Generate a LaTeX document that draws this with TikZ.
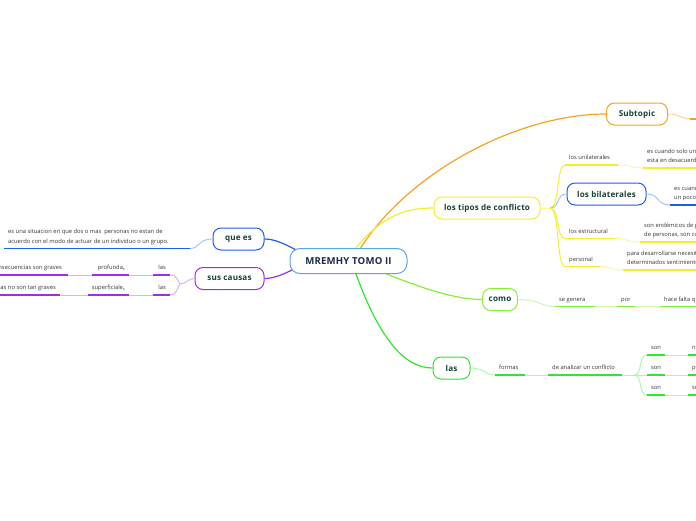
\documentclass[tikz,border=0pt]{standalone}
\usepackage{fontspec}
\setmainfont{Open Sans}
\definecolor{cblue}{HTML}{1F5CF0}
\definecolor{cblueL}{HTML}{A8C0F8}
\definecolor{cyel}{HTML}{F2EE30}
\definecolor{cyelL}{HTML}{F8F6A8}
\definecolor{corg}{HTML}{F7A21E}
\definecolor{corgL}{HTML}{FAD49A}
\definecolor{cpur}{HTML}{A02CE8}
\definecolor{cpurL}{HTML}{DDB0F6}
\definecolor{clime}{HTML}{84F034}
\definecolor{climeL}{HTML}{CDF8AE}
\definecolor{cgrn}{HTML}{2EE62E}
\definecolor{cgrnL}{HTML}{AEF6AE}
\definecolor{ccen}{HTML}{5CA4E4}
\definecolor{ctxt}{HTML}{333333}
\definecolor{chead}{HTML}{17403A}
\definecolor{cnavy}{HTML}{1C2B4A}
\tikzset{
  box/.style={draw=#1, line width=1pt, rounded corners=8pt, fill=white, minimum height=22pt, inner xsep=6pt, font=\fontsize{8.1}{9}\selectfont\bfseries\addfontfeature{LetterSpace=2}, text=chead},
  lbl/.style={anchor=south west, inner xsep=4pt, inner ysep=5pt, font=\fontsize{5.8}{9}\selectfont, text=ctxt, align=left, text depth=0pt},
  lblr/.style={lbl, anchor=south east},
  ul/.style={line width=1.6pt, draw=#1},
  lk/.style={line width=1pt, draw=#1},
  br/.style={line width=1.2pt, draw=#1},
}
\begin{document}
\begin{tikzpicture}[x=1pt,y=-1pt]
\useasboundingbox (0,0) rectangle (696,520);
\clip (0,0) rectangle (696,520);
% main branches
\coordinate (cA) at (360,249);
\coordinate (cB) at (355,249);
\coordinate (cC) at (372,268);
\coordinate (cD) at (356,274);
\coordinate (cE) at (300,252);
\coordinate (cF) at (292,270);
\node[box=corg, minimum width=61pt] (sub) at (637,114) {Subtopic};
\node[box=cyel, minimum width=106pt] (tipos) at (487,208) {los tipos de conflicto};
\node[box=clime, minimum width=32pt] (como) at (500,299.5) {como};
\node[box=cgrn, minimum width=37pt] (las) at (451.5,368) {las};
\node[box=cblue, minimum width=51pt] (quees) at (238.5,239) {que es};
\node[box=cpur, minimum width=69pt] (causas) at (229.5,278.5) {sus causas};
\draw[br=corg] (cA) .. controls (410,170) and (520,114) .. (sub.west);
\draw[br=cyel] (cB) .. controls (385,212) and (410,208) .. (tipos.west);
\draw[br=clime] (cC) .. controls (420,288) and (455,299.5) .. (como.west);
\draw[br=cgrn] (cD) .. controls (380,340) and (405,368) .. (las.west);
\draw[br=cblue] (cE) .. controls (285,244) and (275,239) .. (quees.east);
\draw[br=cpur] (cF) .. controls (280,276) and (272,278.5) .. (causas.east);
\node[box=ccen, minimum width=117pt, minimum height=25pt, rounded corners=10pt, font=\fontsize{9.6}{11}\selectfont\bfseries\addfontfeature{LetterSpace=2}, text=cnavy] (cen) at (348.5,261) {MREMHY TOMO II};
% Subtopic tail
\coordinate (subt) at (696,119);
\draw[lk=corgL] (sub.east) .. controls (680,114) and (682,119) .. (690,119);
\draw[ul=corg] (690,119) -- (subt);
% --- tipos children
\node[lbl] (uni) at (565,165) {los unilaterales};
\node[lbl] (uni2) at (643,168) {es cuando solo una persona\\esta en desacuerdo};
\node[box=cblue, minimum width=79pt] (bil) at (606.5,194) {los bilaterales};
\node[lbl] (bil2) at (670,205) {es cuando ambos\\un poco};
\node[lbl] (est) at (565,238.5) {los estructural};
\node[lbl] (est2) at (640,242) {son endémicos de grupos\\de personas, son comunes};
\node[lbl] (per) at (565,266.5) {personal};
\node[lbl] (per2) at (623,270) {para desarrollarse necesitan\\determinados sentimientos};
\path (uni.south west) ++(53,0) coordinate (uniE);
\path (est.south west) ++(50,0) coordinate (estE);
\path (per.south west) ++(35,0) coordinate (perE);
\coordinate (tb) at (550,208);
\draw[lk=cyelL] (tipos.east) -- (tb);
\draw[lk=cyel] (tb) .. controls (560,208) and (556,165) .. (uni.south west);
\draw[lk=cblueL] (tb) .. controls (560,208) and (556,194) .. (bil.west);
\draw[lk=cyel] (tb) .. controls (560,208) and (556,238.5) .. (est.south west);
\draw[lk=cyel] (tb) .. controls (560,208) and (556,266.5) .. (per.south west);
\draw[ul=cyel] (uni.south west) -- (uniE);
\draw[lk=cyelL] (uniE) .. controls (632,165) and (630,168) .. (uni2.south west);
\draw[ul=cyel] (uni2.south west) -- ++(60,0);
\draw[lk=cblueL] (bil.east) .. controls (660,194) and (656,205) .. (bil2.south west);
\draw[ul=cblue] (bil2.south west) -- ++(40,0);
\draw[ul=cyel] (est.south west) -- (estE);
\draw[lk=cyelL] (estE) .. controls (628,238.5) and (626,242) .. (est2.south west);
\draw[ul=cyel] (est2.south west) -- ++(60,0);
\draw[ul=cyel] (per.south west) -- (perE);
\draw[lk=cyelL] (perE) .. controls (612,266.5) and (610,270) .. (per2.south west);
\draw[ul=cyel] (per2.south west) -- ++(80,0);
% --- como children
\node[lbl] (gen) at (555,306.5) {se genera};
\node[lbl] (por) at (617,306.5) {por};
\node[lbl] (falta) at (660,306.5) {hace falta que};
\path (gen.south west) ++(40,0) coordinate (genE);
\path (por.south west) ++(18,0) coordinate (porE);
\draw[lk=climeL] (como.east) .. controls (540,299.5) and (540,306.5) .. (gen.south west);
\draw[ul=clime] (gen.south west) -- (genE);
\draw[lk=climeL] (genE) -- (por.south west);
\draw[ul=clime] (por.south west) -- (porE);
\draw[lk=climeL] (porE) -- (falta.south west);
\draw[ul=clime] (falta.south west) -- ++(50,0);
% --- las children
\node[lbl] (form) at (495,375) {formas};
\node[lbl] (anal) at (548,375) {de analizar un conflicto};
\node[lbl] (s1) at (647,355) {son};
\node[lbl] (s2) at (647,375) {son};
\node[lbl] (s3) at (647,395) {son};
\node[lbl] (t1) at (688,355) {negociación};
\node[lbl] (t2) at (688,375) {persuasión};
\node[lbl] (t3) at (688,395) {solución};
\path (form.south west) ++(30,0) coordinate (formE);
\path (anal.south west) ++(74,0) coordinate (analE);
\coordinate (lb) at (634,375);
\draw[lk=cgrnL] (las.east) .. controls (484,368) and (484,375) .. (form.south west);
\draw[ul=cgrn] (form.south west) -- (formE);
\draw[lk=cgrnL] (formE) -- (anal.south west);
\draw[ul=cgrn] (anal.south west) -- (analE);
\draw[lk=cgrnL] (analE) -- (lb);
\draw[lk=cgrnL] (lb) .. controls (643,375) and (638,355) .. (s1.south west);
\draw[lk=cgrnL] (lb) -- (s2.south west);
\draw[lk=cgrnL] (lb) .. controls (643,375) and (638,395) .. (s3.south west);
\foreach \a/\b in {s1/t1,s2/t2,s3/t3}{
  \draw[ul=cgrn] (\a.south west) -- ++(18,0) coordinate (tmp);
  \draw[lk=cgrnL] (tmp) -- (\b.south west);
  \draw[ul=cgrn] (\b.south west) -- ++(30,0);
}
% --- que es
\node[lbl, font=\fontsize{5.8}{10}\selectfont] (def) at (4,248.5) {es una situacion en que dos o mas \ personas no estan de\\acuerdo con el modo de actuar de un individuo o un grupo.};
\path (def.south west) ++(186,0) coordinate (defE);
\draw[lk=cblueL] (quees.west) .. controls (198,239) and (200,248.5) .. (defE);
\draw[ul=cblue] (def.south west) -- (defE);
% --- sus causas
\node[lblr] (las1) at (170,275) {las};
\node[lblr] (prof) at (129,275) {profunda\raisebox{-1pt}{\fontsize{3.8}{4}\selectfont s}};
\node[lblr, inner xsep=6pt] (cons1) at (68,275) {consecuencias son graves};
\node[lblr] (las2) at (170,295) {las};
\node[lblr] (sup) at (129,295) {superficiale\raisebox{-1pt}{\fontsize{3.8}{4}\selectfont s}};
\node[lblr, inner xsep=4pt] (cons2) at (60,295) {consecuencias no son tan graves};
\path (las1.south east) ++(-17,0) coordinate (las1W);
\path (prof.south east) ++(-37,0) coordinate (profW);
\path (las2.south east) ++(-17,0) coordinate (las2W);
\path (sup.south east) ++(-41,0) coordinate (supW);
\coordinate (cb) at (180,284);
\draw[lk=cpurL] (causas.west) .. controls (188,278.5) and (186,284) .. (cb);
\draw[lk=cpurL] (cb) .. controls (177,280) and (177,275) .. (las1.south east);
\draw[lk=cpurL] (cb) .. controls (177,288) and (177,295) .. (las2.south east);
\draw[ul=cpur] (las1.south east) -- (las1W);
\draw[lk=cpurL] (las1W) -- (prof.south east);
\draw[ul=cpur] (prof.south east) -- (profW);
\draw[lk=cpurL] (profW) -- (cons1.south east);
\draw[ul=cpur] (cons1.south east) -- ++(-75,0);
\draw[ul=cpur] (las2.south east) -- (las2W);
\draw[lk=cpurL] (las2W) -- (sup.south east);
\draw[ul=cpur] (sup.south east) -- (supW);
\draw[lk=cpurL] (supW) -- (cons2.south east);
\draw[ul=cpur] (cons2.south east) -- ++(-70,0);
\end{tikzpicture}
\end{document}
